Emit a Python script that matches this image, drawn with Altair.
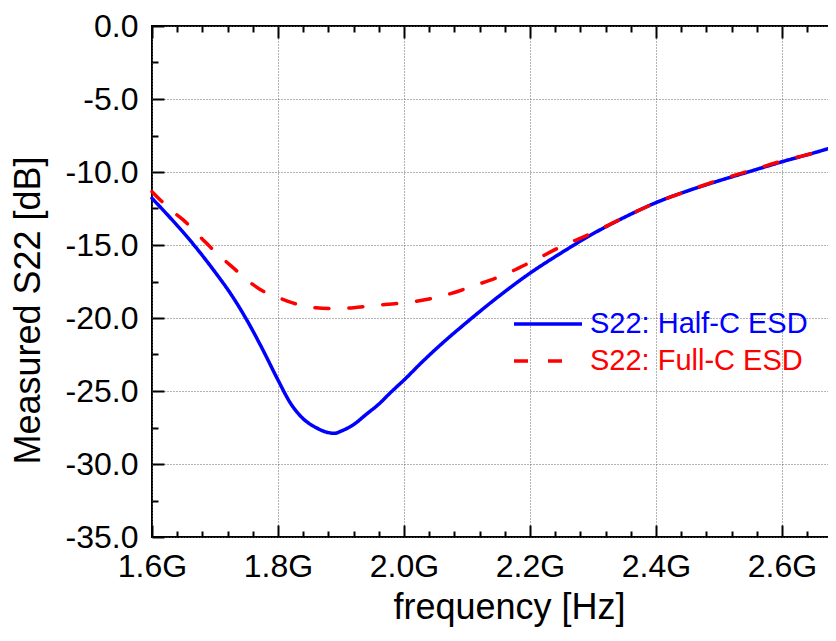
import altair as alt
import pandas as pd

# ---- data ----
freq_half = [1.60, 1.625, 1.65, 1.675, 1.70, 1.725, 1.75, 1.775, 1.80, 1.82, 1.84, 1.86,
             1.88, 1.89, 1.90, 1.92, 1.94, 1.96, 1.98, 2.00, 2.03, 2.06, 2.10, 2.15,
             2.20, 2.25, 2.30, 2.35, 2.40, 2.45, 2.50, 2.55, 2.60, 2.65, 2.70]
s22_half = [-11.8, -12.95, -14.15, -15.45, -16.85, -18.35, -20.1, -22.1, -24.25, -25.85, -26.9, -27.5,
            -27.85, -27.9, -27.75, -27.3, -26.6, -25.9, -25.05, -24.25, -22.96, -21.76, -20.28, -18.53,
            -16.93, -15.53, -14.23, -13.1, -12.1, -11.3, -10.6, -9.95, -9.3, -8.7, -8.05]

freq_full = [1.60, 1.63, 1.65, 1.68, 1.70, 1.73, 1.76, 1.78, 1.80, 1.83, 1.86, 1.89,
             1.92, 1.95, 1.99, 2.02, 2.05, 2.08, 2.11, 2.15, 2.20, 2.25, 2.30, 2.35,
             2.40, 2.45, 2.50, 2.55, 2.60, 2.65, 2.70]
s22_full = [-11.35, -12.6, -13.3, -14.6, -15.45, -16.6, -17.7, -18.25, -18.6, -19.05, -19.3, -19.35,
            -19.3, -19.15, -19.0, -18.85, -18.6, -18.25, -17.8, -17.2, -16.2, -15.1, -14.15, -13.1,
            -12.1, -11.3, -10.55, -9.9, -9.25, -8.7, -8.05]

series_names = ["S22: Half-C ESD", "S22: Full-C ESD"]
series_colors = ["#0000ff", "#ff0000"]
series_dash = [[1, 0], [14, 20]]

x_major = [1.6, 1.8, 2.0, 2.2, 2.4, 2.6]
x_minor = [1.64, 1.68, 1.72, 1.76, 1.84, 1.88, 1.92, 1.96, 2.04, 2.08, 2.12, 2.16,
           2.24, 2.28, 2.32, 2.36, 2.44, 2.48, 2.52, 2.56, 2.64, 2.68]
y_major = [0, -5, -10, -15, -20, -25, -30, -35]
y_minor = [-2.5, -7.5, -12.5, -17.5, -22.5, -27.5, -32.5]

rows = []
for f, v in zip(freq_half, s22_half):
    rows.append({"freq": f, "S22": v, "series": series_names[0]})
for f, v in zip(freq_full, s22_full):
    rows.append({"freq": f, "S22": v, "series": series_names[1]})
df = pd.DataFrame(rows)

W, H = 693, 511
FONT = "Liberation Sans"

xs = alt.Scale(domain=[1.6, 2.7], nice=False, zero=False)
ys = alt.Scale(domain=[-35, 0], nice=False, zero=False)

xlab = "format(datum.value, '.1f') + 'G'"
ylab = "(datum.value < 0 ? '-' : '') + format(abs(datum.value), '.1f')"

grid_common = dict(grid=True, gridColor="#666666", gridDash=[1, 2], gridWidth=1)


def tick_axis(orient, values, size, **kw):
    return alt.Axis(orient=orient, values=values, tickSize=size, offset=-size,
                    domain=False, grid=False, labels=False, title=None,
                    tickColor="black", tickWidth=2, **kw)


legend = alt.Legend(
    title=None, orient="none", legendX=360, legendY=283, direction="vertical",
    symbolType="stroke", symbolSize=4624, symbolStrokeWidth=3.5,
    labelFontSize=29, labelFont=FONT, labelLimit=500, labelOffset=6,
    clipHeight=30, rowPadding=7, padding=0,
    labelColor={"expr": "datum.label == 'S22: Half-C ESD' ? '#0000ff' : '#ff0000'"},
)

base = alt.Chart(df)

lines = base.mark_line(strokeWidth=3.5, strokeCap="round", interpolate="monotone").encode(
    x=alt.X("freq:Q", scale=xs, axis=alt.Axis(
        orient="bottom", values=x_major, labelExpr=xlab, tickSize=12, offset=-12,
        domain=False, tickColor="black", tickWidth=2,
        labelFontSize=32, labelFont=FONT, labelColor="black", labelBaseline="alphabetic",
        labelPadding=39, labelFlush=False,
        title="frequency [Hz]", titleFontSize=36, titleFont=FONT, titleFontWeight="normal",
        titleColor="black", titleX=357, titleY=93, titleBaseline="alphabetic", titleAlign="center",
        **grid_common)),
    y=alt.Y("S22:Q", scale=ys, axis=alt.Axis(
        orient="left", values=y_major, labelExpr=ylab, tickSize=12, offset=-12,
        domain=False, tickColor="black", tickWidth=2,
        labelFontSize=32, labelFont=FONT, labelColor="black", labelPadding=14,
        labelFlush=False, labelBaseline="middle",
        title="Measured S22 [dB]", titleFontSize=36, titleFont=FONT, titleFontWeight="normal",
        titleColor="black", titleX=-125, titleY=284, titleAngle=270,
        titleBaseline="alphabetic", titleAlign="center",
        **grid_common)),
    color=alt.Color("series:N", scale=alt.Scale(domain=series_names, range=series_colors), legend=legend),
    strokeDash=alt.StrokeDash("series:N", scale=alt.Scale(domain=series_names, range=series_dash), legend=legend),
)

ghost = dict(strokeOpacity=0, opacity=0)

top_right_major = base.mark_line(**ghost).encode(
    x=alt.X("freq:Q", scale=xs, axis=tick_axis("top", x_major, 12)),
    y=alt.Y("S22:Q", scale=ys, axis=tick_axis("right", y_major, 12)),
)
bottom_left_minor = base.mark_line(**ghost).encode(
    x=alt.X("freq:Q", scale=xs, axis=tick_axis("bottom", x_minor, 6)),
    y=alt.Y("S22:Q", scale=ys, axis=tick_axis("left", y_minor, 6)),
)
top_right_minor = base.mark_line(**ghost).encode(
    x=alt.X("freq:Q", scale=xs, axis=tick_axis("top", x_minor, 6)),
    y=alt.Y("S22:Q", scale=ys, axis=tick_axis("right", y_minor, 6)),
)

# the plot area runs past the right edge of the picture (as in the reference);
# a negative right padding keeps the page from overflowing, the svg clips the rest
chart = alt.layer(lines, top_right_major, bottom_left_minor, top_right_minor).resolve_axis(
    x="independent", y="independent"
).properties(
    width=W, height=H,
    autosize=alt.AutoSizeParams(type="none"),
    padding={"left": 144, "top": 18, "right": -17, "bottom": 91},
    background="white",
).configure_view(stroke="black", strokeWidth=2)

chart.save("out.html", embed_options={"renderer": "svg", "actions": False})
